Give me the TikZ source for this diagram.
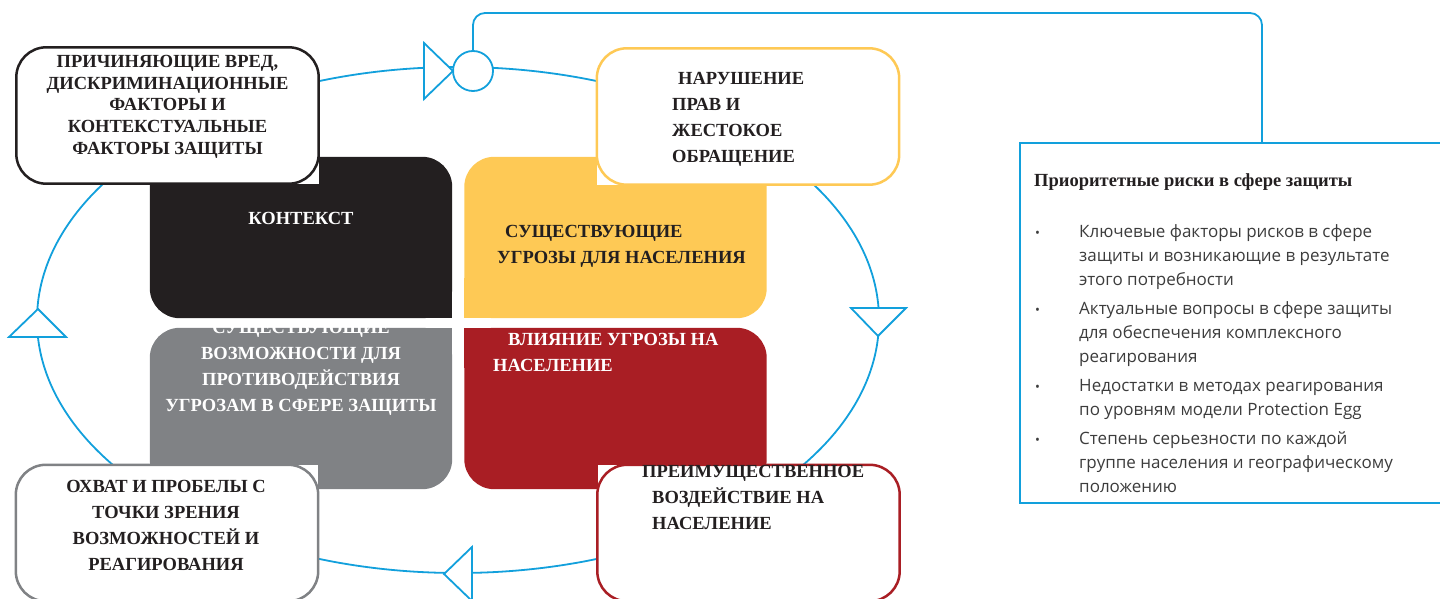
\documentclass[tikz,border=0pt]{standalone}
\usepackage{fontspec}
\setmainfont{Liberation Serif}
\newfontfamily\listfont{Open Sans}
\usetikzlibrary{positioning}
\definecolor{eggblue}{RGB}{18,160,220}
\definecolor{eggblack}{RGB}{35,31,32}
\definecolor{eggyellow}{RGB}{254,201,85}
\definecolor{egggray}{RGB}{128,130,133}
\definecolor{eggred}{RGB}{169,30,36}
\definecolor{listgray}{RGB}{60,60,60}
\tikzset{
  quad/.style={rectangle, minimum width=302pt, minimum height=161pt, inner sep=0pt},
  card/.style={rectangle, fill=white, minimum width=302pt, minimum height=136pt, inner sep=0pt},
  rim/.style={line width=2.5pt, rounded corners=30pt},
  caps/.style={font=\bfseries\fontsize{18.5}{26}\selectfont, text=eggblack, inner sep=0pt},
  head/.style={draw=eggblue, fill=white, line width=1.8pt},
}
\begin{document}
\begin{tikzpicture}[x=1pt, y=-1pt]
  \useasboundingbox (0,0) rectangle (1440,599);
  % loop of the egg
  \draw[eggblue, line width=1.8pt] (458,320) ellipse [x radius=421pt, y radius=253pt];
  % risks panel and its link
  \node (risks) [rectangle, draw=eggblue, line width=1.8pt, minimum width=484pt, minimum height=360pt] at (1262,323) {};
  \node (junc) [circle, head, minimum size=40pt, inner sep=0pt] at (473,71) {};
  \coordinate (bend) at (1262,13);
  \draw[eggblue, line width=1.8pt, rounded corners=12pt] (junc.north) |- (bend) -- (risks.north);
  % four quadrants
  \node (ctx) [quad] at (301,237.5) {};
  \node (threat) [quad] at (615.5,237.5) {};
  \node (capac) [quad] at (301,408.5) {};
  \node (impact) [quad] at (615.5,408.5) {};
  \foreach \q/\c/\a/\dx/\dy in {ctx/eggblack/south east/-40/40, threat/eggyellow/south west/40/40,
      capac/egggray/north east/-40/-40, impact/eggred/north west/40/-40} {
    \fill[\c, rounded corners=30pt] (\q.north west) rectangle (\q.south east);
    \fill[\c] (\q.\a) rectangle ++(\dx pt,\dy pt);
  }
  % outer cards
  \node (harm) [card] at (167.5,115.5) {};
  \node (abuse) [card] at (748,116.5) {};
  \node (reach) [card] at (167,533) {};
  \node (weight) [card] at (748.5,533) {};
  \draw[rim, eggblack] (harm.north west) rectangle (harm.south east);
  \draw[rim, eggyellow] (abuse.north west) rectangle (abuse.south east);
  \draw[rim, egggray] (reach.north west) rectangle (reach.south east);
  \draw[rim, eggred] (weight.north west) rectangle (weight.south east);
  % arrow heads on the loop
  \filldraw[head] (424,43) -- (453,71) -- (424,99) -- cycle;
  \filldraw[head] (851,308) -- (906,308) -- (878,336) -- cycle;
  \filldraw[head] (472,547) -- (444,574) -- (472,601) -- cycle;
  \filldraw[head] (38,309) -- (66,337) -- (9,337) -- cycle;
  % texts
  \node (harmtxt) [caps, align=center, anchor=north, font=\bfseries\fontsize{18.5}{21.75}\selectfont] at (167.5,55)
    {ПРИЧИНЯЮЩИЕ ВРЕД,\\ДИСКРИМИНАЦИОННЫЕ\\ФАКТОРЫ И\\КОНТЕКСТУАЛЬНЫЕ\\ФАКТОРЫ ЗАЩИТЫ};
  \node (abusetxt) [caps, align=left, anchor=north west] at (672,72)
    {\hspace*{6pt}НАРУШЕНИЕ\\ПРАВ И\\ЖЕСТОКОЕ\\ОБРАЩЕНИЕ};
  \node (reachtxt) [caps, align=center, anchor=north] at (166,480)
    {ОХВАТ И ПРОБЕЛЫ С\\ТОЧКИ ЗРЕНИЯ\\ВОЗМОЖНОСТЕЙ И\\РЕАГИРОВАНИЯ};
  \node (weighttxt) [caps, align=left, anchor=north west] at (642,465)
    {ПРЕИМУЩЕСТВЕННОЕ\\\hspace*{10pt}ВОЗДЕЙСТВИЕ НА\\\hspace*{10pt}НАСЕЛЕНИЕ};
  \node (ctxtxt) [caps, text=white, anchor=north] at (301,212) {КОНТЕКСТ};
  \node (threattxt) [caps, align=left, anchor=north west] at (497,225)
    {\hspace*{8pt}СУЩЕСТВУЮЩИЕ\\УГРОЗЫ ДЛЯ НАСЕЛЕНИЯ};
  \node (capactxt) [caps, text=white, align=center, anchor=north] at (301,321)
    {СУЩЕСТВУЮЩИЕ\\ВОЗМОЖНОСТИ ДЛЯ\\ПРОТИВОДЕЙСТВИЯ\\УГРОЗАМ В СФЕРЕ ЗАЩИТЫ};
  \node (impacttxt) [caps, text=white, align=left, anchor=north west] at (493,333)
    {\hspace*{15pt}ВЛИЯНИЕ УГРОЗЫ НА\\НАСЕЛЕНИЕ};
  \node (riskhead) [anchor=base west, inner sep=0pt, text=eggblack, font=\bfseries\fontsize{18.5}{22}\selectfont] at (1034,186)
    {Приоритетные риски в сфере защиты};
  \node (risklist) [anchor=north west, inner sep=0pt, text=listgray, font=\listfont\fontsize{17}{24}\selectfont] at (1035,220)
    {\begin{tabular}{@{}p{44pt}@{}l@{}}
      {\fontsize{13}{13}\selectfont •} & Ключевые факторы рисков в сфере\\
      & защиты и возникающие в результате\\
      & этого потребности\\[5pt]
      {\fontsize{13}{13}\selectfont •} & Актуальные вопросы в сфере защиты\\
      & для обеспечения комплексного\\
      & реагирования\\[5pt]
      {\fontsize{13}{13}\selectfont •} & Недостатки в методах реагирования\\
      & по уровням модели Protection Egg\\[5pt]
      {\fontsize{13}{13}\selectfont •} & Степень серьезности по каждой\\
      & группе населения и географическому\\
      & положению
    \end{tabular}};
\end{tikzpicture}
\end{document}
